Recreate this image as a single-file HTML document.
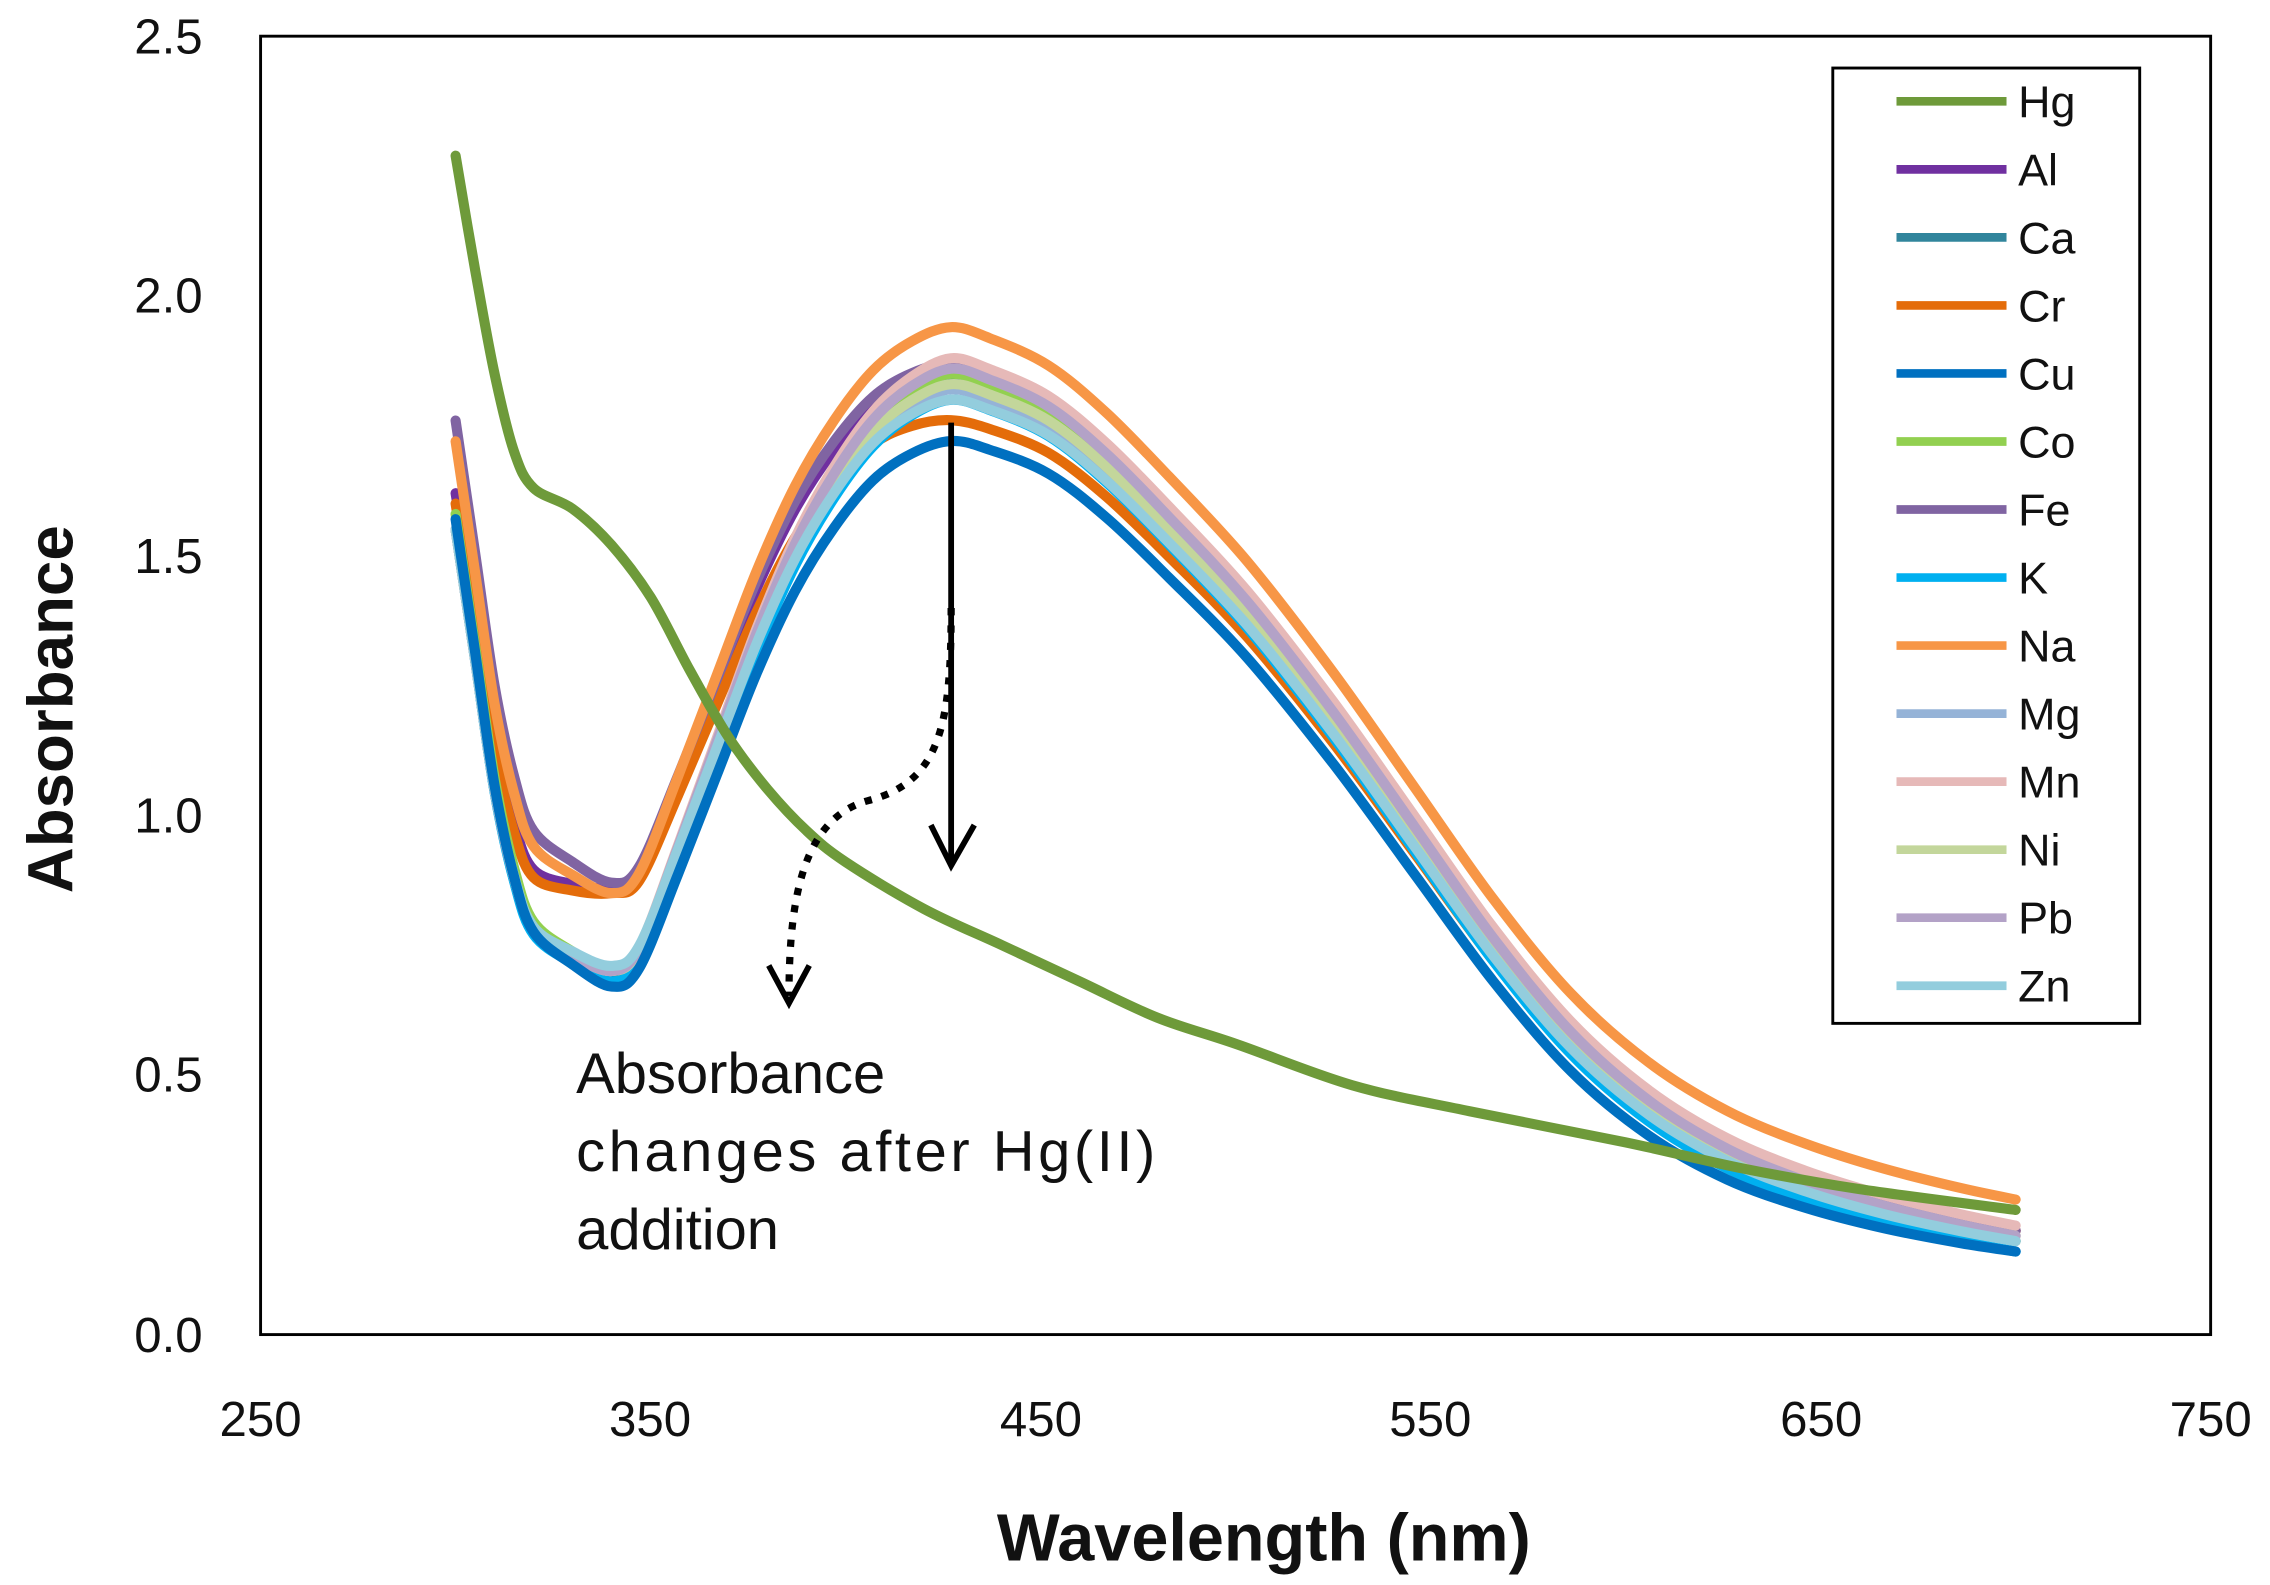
<!DOCTYPE html>
<html><head><meta charset="utf-8"><style>
html,body{margin:0;padding:0;background:#fff}
svg{display:block}
text{font-family:"Liberation Sans",Arial,sans-serif}
</style></head><body>
<svg id="s" width="2270" height="1585" viewBox="0 0 1568 1095" preserveAspectRatio="none" xmlns="http://www.w3.org/2000/svg">
<rect x="0" y="0" width="1568" height="1095" fill="#fff"/>
<rect x="180" y="25" width="1347" height="897" fill="none" stroke="#000" stroke-width="2"/>
<g font-size="34" fill="#111" text-anchor="end">
<text x="140" y="934">0.0</text><text x="140" y="754">0.5</text><text x="140" y="575">1.0</text>
<text x="140" y="396">1.5</text><text x="140" y="216">2.0</text><text x="140" y="37">2.5</text>
</g>
<g font-size="34" fill="#111" text-anchor="middle">
<text x="180" y="992">250</text><text x="449" y="992">350</text><text x="719" y="992">450</text>
<text x="988" y="992">550</text><text x="1258" y="992">650</text><text x="1527" y="992">750</text>
</g>
<text x="873" y="1078" font-size="46" font-weight="bold" text-anchor="middle" fill="#111">Wavelength (nm)</text>
<text transform="translate(50,490) rotate(-90)" font-size="44" font-weight="bold" text-anchor="middle" fill="#111">Absorbance</text>
<g id="curves" fill="none" stroke-width="7" stroke-linecap="round" stroke-linejoin="round"></g>
<g stroke="#000" stroke-width="4" fill="none">
<line x1="657" y1="292" x2="657" y2="595"/>
<polyline points="643,570 657,598 673,570"/>
<path d="M657,420 C657,500 650,540 600,553 C555,565 545,620 545,688" stroke-dasharray="5,7" stroke-width="5"/>
<polyline points="531,667 545,693 559,667"/>
</g>
<g font-size="40" fill="#111">
<text x="398" y="755">Absorbance</text>
<text x="398" y="809" textLength="400">changes  after Hg(II)</text>
<text x="398" y="863">addition</text>
</g>
<rect x="1266" y="47" width="212" height="660" fill="#fff" stroke="#000" stroke-width="2"/>
<g id="legend"></g>
</svg>
<script>
var X=function(n){return 180+(n-250)*2.694;},Y=function(a){return 922-a*358.8;};
var base=[[300,1.55],[305,1.3],[310,1.05],[315,0.88],[320,0.78],[330,0.73],[340,0.70],[347,0.74],[357,0.93],[367,1.13],[377,1.33],[387,1.50],[397,1.63],[407,1.73],[417,1.79],[427,1.82],[437,1.80],[452,1.75],[467,1.66],[483,1.54],[503,1.38],[525,1.17],[546,0.95],[566,0.74],[586,0.56],[606,0.43],[626,0.34],[646,0.28],[666,0.235],[686,0.20],[700,0.18]];
var hg=[[300,2.27],[305,2.05],[310,1.85],[315,1.70],[320,1.63],[330,1.59],[340,1.52],[350,1.42],[360,1.28],[370,1.15],[380,1.05],[390,0.97],[400,0.91],[420,0.82],[440,0.75],[460,0.68],[480,0.61],[500,0.56],[530,0.48],[560,0.43],[600,0.37],[630,0.32],[660,0.28],[700,0.24]];
function path(p){var d="M"+X(p[0][0])+","+Y(p[0][1]);for(var i=0;i<p.length-1;i++){var p0=p[Math.max(0,i-1)],p1=p[i],p2=p[i+1],p3=p[Math.min(p.length-1,i+2)];
var x1=X(p1[0]),y1=Y(p1[1]),x2=X(p2[0]),y2=Y(p2[1]);
var c1x=x1+(X(p2[0])-X(p0[0]))/6,c1y=y1+(Y(p2[1])-Y(p0[1]))/6,c2x=x2-(X(p3[0])-X(p1[0]))/6,c2y=y2-(Y(p3[1])-Y(p1[1]))/6;
d+=" C"+c1x.toFixed(1)+","+c1y.toFixed(1)+" "+c2x.toFixed(1)+","+c2y.toFixed(1)+" "+x2.toFixed(1)+","+y2.toFixed(1);}return d;}
function delta(n,d){var k=[300,340,425,700];for(var i=0;i<3;i++){if(n<=k[i+1]){var t=(n-k[i])/(k[i+1]-k[i]);return d[i]+t*(d[i+1]-d[i]);}}return d[3];}
var S=[["Hg","#6e9a3a",null],["Al","#7030a0",[0.07,0.16,0.03,0.02]],["Ca","#31859c",[0,-0.01,0.02,0]],["Cr","#e46c0a",[0.05,0.15,-0.06,0.02]],["Cu","#0070c0",[0.02,-0.03,-0.1,-0.02]],["Co","#92d050",[0.03,0,0.03,0]],["Fe","#8064a2",[0.21,0.17,0.05,0.02]],["K","#00b0f0",[0,-0.02,-0.02,-0.02]],["Na","#f79646",[0.17,0.15,0.12,0.08]],["Mg","#95b3d7",[0,0,0,0]],["Mn","#e6b9b8",[0,0,0.06,0.03]],["Ni","#c3d69b",[0,0,0.01,0.01]],["Pb","#b3a2c7",[0,0,0.04,0.01]],["Zn","#93cddd",[0,0.01,-0.02,0]]];
var ns="http://www.w3.org/2000/svg",g=document.getElementById("curves"),L=document.getElementById("legend");
var order=[1,2,3,5,6,7,9,10,11,12,13,8,4,0];
order.forEach(function(i){var s=S[i];var pts=s[2]?base.map(function(p){return [p[0],p[1]+delta(p[0],s[2])];}):hg;
var e=document.createElementNS(ns,"path");e.setAttribute("d",path(pts));e.setAttribute("stroke",s[1]);g.appendChild(e);});
S.forEach(function(s,i){var y=70+47*i;var l=document.createElementNS(ns,"line");l.setAttribute("x1",1310);l.setAttribute("x2",1386);l.setAttribute("y1",y);l.setAttribute("y2",y);l.setAttribute("stroke",s[1]);l.setAttribute("stroke-width",6);L.appendChild(l);
var t=document.createElementNS(ns,"text");t.setAttribute("x",1394);t.setAttribute("y",y+11);t.setAttribute("font-size",31);t.setAttribute("fill","#111");t.textContent=s[0];L.appendChild(t);});
</script>
</body></html>
